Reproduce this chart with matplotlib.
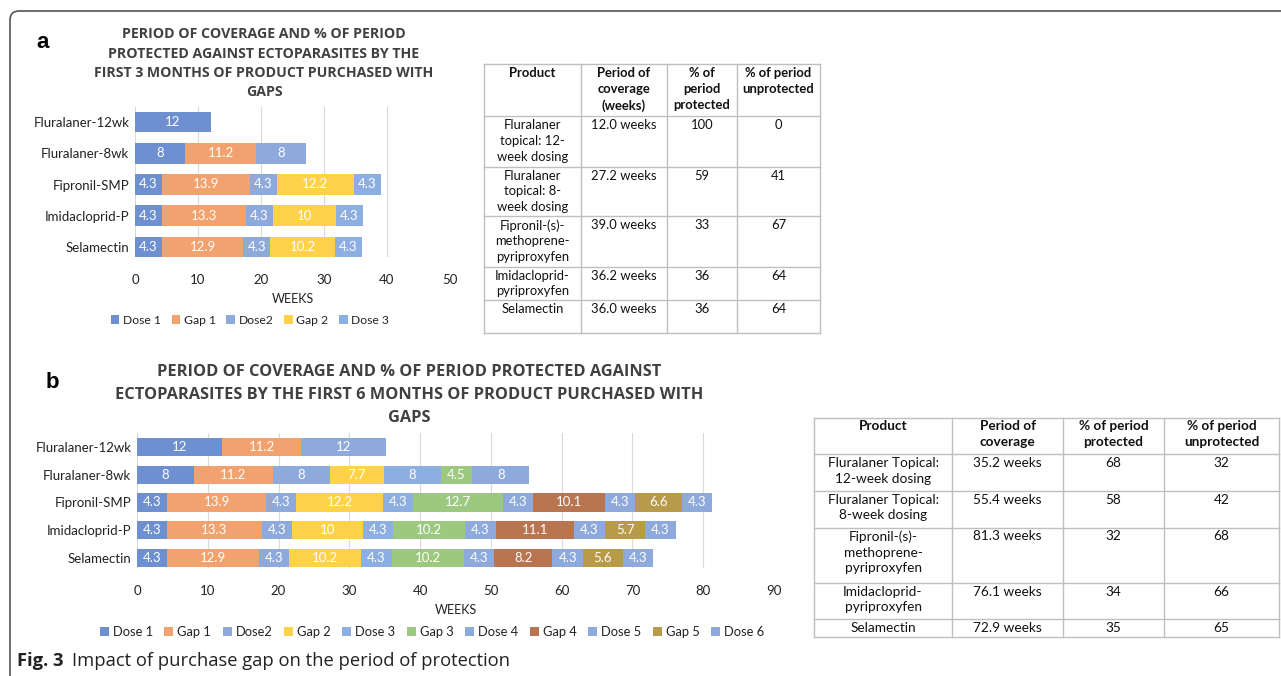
import matplotlib
matplotlib.use("Agg")
import matplotlib.pyplot as plt
from matplotlib.patches import FancyBboxPatch

W, H = 1281, 676

products = ["Fluralaner-12wk", "Fluralaner-8wk", "Fipronil-SMP", "Imidacloprid-P", "Selamectin"]

# panel a: first 3 months (weeks per segment, 0 = no segment)
series_a = ["Dose 1", "Gap 1", "Dose2", "Gap 2", "Dose 3"]
dose1_a = [12, 8, 4.3, 4.3, 4.3]
gap1_a = [0, 11.2, 13.9, 13.3, 12.9]
dose2_a = [0, 8, 4.3, 4.3, 4.3]
gap2_a = [0, 0, 12.2, 10, 10.2]
dose3_a = [0, 0, 4.3, 4.3, 4.3]
values_a = [dose1_a, gap1_a, dose2_a, gap2_a, dose3_a]

# panel b: first 6 months
series_b = ["Dose 1", "Gap 1", "Dose2", "Gap 2", "Dose 3", "Gap 3", "Dose 4", "Gap 4", "Dose 5", "Gap 5", "Dose 6"]
dose1_b = [12, 8, 4.3, 4.3, 4.3]
gap1_b = [11.2, 11.2, 13.9, 13.3, 12.9]
dose2_b = [12, 8, 4.3, 4.3, 4.3]
gap2_b = [0, 7.7, 12.2, 10, 10.2]
dose3_b = [0, 8, 4.3, 4.3, 4.3]
gap3_b = [0, 4.5, 12.7, 10.2, 10.2]
dose4_b = [0, 8, 4.3, 4.3, 4.3]
gap4_b = [0, 0, 10.1, 11.1, 8.2]
dose5_b = [0, 0, 4.3, 4.3, 4.3]
gap5_b = [0, 0, 6.6, 5.7, 5.6]
dose6_b = [0, 0, 4.3, 4.3, 4.3]
values_b = [dose1_b, gap1_b, dose2_b, gap2_b, dose3_b, gap3_b, dose4_b, gap4_b, dose5_b, gap5_b, dose6_b]

colors = {"Dose 1": "#6E8FD0", "Gap 1": "#F1A26E", "Dose2": "#8EA9DC", "Gap 2": "#FFD24A",
          "Dose 3": "#8DAEE0", "Gap 3": "#9CC97F", "Dose 4": "#8EA9DC", "Gap 4": "#B8754F",
          "Dose 5": "#8EA9DC", "Gap 5": "#B89B48", "Dose 6": "#8EA9DC"}

header_a = ["Product", "Period of\ncoverage\n(weeks)", "% of\nperiod\nprotected", "% of period\nunprotected"]
rows_a = [["Fluralaner\ntopical: 12-\nweek dosing", "12.0 weeks", "100", "0"],
          ["Fluralaner\ntopical: 8-\nweek dosing", "27.2 weeks", "59", "41"],
          ["Fipronil-(s)-\nmethoprene-\npyriproxyfen", "39.0 weeks", "33", "67"],
          ["Imidacloprid-\npyriproxyfen", "36.2 weeks", "36", "64"],
          ["Selamectin", "36.0 weeks", "36", "64"]]

header_b = ["Product", "Period of\ncoverage", "% of period\nprotected", "% of period\nunprotected"]
rows_b = [["Fluralaner Topical:\n12-week dosing", "35.2 weeks", "68", "32"],
          ["Fluralaner Topical:\n8-week dosing", "55.4 weeks", "58", "42"],
          ["Fipronil-(s)-\nmethoprene-\npyriproxyfen", "81.3 weeks", "32", "68"],
          ["Imidacloprid-\npyriproxyfen", "76.1 weeks", "34", "66"],
          ["Selamectin", "72.9 weeks", "35", "65"]]

plt.rcParams['font.family'] = ['Lato', 'DejaVu Sans']
TXT = "#222222"

fig = plt.figure(figsize=(W / 100, H / 100), dpi=100)


def fx(px):
    return px / W


def fy(py):
    return 1 - py / H


def stacked(rect, series, values, xmax, ylim, bh, fs):
    ax = fig.add_axes(rect)
    y = list(range(len(products)))
    left = [0] * len(products)
    handles = []
    for name, vals in zip(series, values):
        bars = ax.barh(y, vals, left=left, height=bh, color=colors[name], zorder=3, label=name)
        ax.bar_label(bars, labels=[f"{v:g}" if v > 0 else "" for v in vals],
                     label_type="center", color="white", fontsize=fs + 0.5)
        handles.append(bars)
        left = [l + v for l, v in zip(left, vals)]
    ax.set_yticks(y)
    ax.set_yticklabels(products, fontsize=fs + 0.5, color=TXT)
    ax.set_xlim(0, xmax)
    ax.set_xticks(range(0, xmax + 1, 10))
    ax.tick_params(axis="x", labelsize=fs + 0.5, colors=TXT, length=0, pad=12)
    ax.tick_params(axis="y", length=0, pad=4)
    ax.set_ylim(*ylim)
    ax.grid(axis="x", color="#D9D9D9", lw=0.8, zorder=0)
    for s in ax.spines.values():
        s.set_visible(False)
    ax.set_xlabel("WEEKS", fontsize=fs, color=TXT, labelpad=5)
    return ax, handles


ax_a, h_a = stacked([fx(135), fy(257), fx(450 - 135), (257 - 107) / H], series_a, values_a, 50,
                    (4.32, -0.48), 0.66, 9)
ax_b, h_b = stacked([fx(137), fy(568), fx(774 - 137), (568 - 433) / H], series_b, values_b, 90,
                    (4.36, -0.5), 0.66, 9)

leg_kw = dict(frameon=False, handlelength=0.7, handleheight=0.7, handletextpad=0.3,
              columnspacing=0.9, labelcolor=TXT)
fig.legend(h_a, series_a, loc="center", bbox_to_anchor=(fx(250), fy(320)), ncol=5, fontsize=8.7, **leg_kw)
fig.legend(h_b, series_b, loc="center", bbox_to_anchor=(fx(432), fy(632)), ncol=11, fontsize=9.3, **leg_kw)

# overlay for titles, tables, frame
ov = fig.add_axes([0, 0, 1, 1], zorder=-1)
ov.set_xlim(0, W)
ov.set_ylim(H, 0)
ov.axis("off")

ov.add_patch(FancyBboxPatch((10, 11), 1400, 800, boxstyle="round,pad=0,rounding_size=9",
                            fc="none", ec="#555555", lw=1.2))

title_font = ['Open Sans', 'DejaVu Sans']
title_a = ["PERIOD OF COVERAGE AND % OF PERIOD", "PROTECTED AGAINST ECTOPARASITES BY THE",
           "FIRST 3 MONTHS OF PRODUCT PURCHASED WITH", "GAPS"]
for i, line in enumerate(title_a):
    ov.text(264, 34 + i * 19.5, line, ha="center", va="center", fontsize=10.2, fontweight="bold",
            color="#404040", family=title_font)
title_b = ["PERIOD OF COVERAGE AND % OF PERIOD PROTECTED AGAINST",
           "ECTOPARASITES BY THE FIRST 6 MONTHS OF PRODUCT PURCHASED WITH", "GAPS"]
for i, line in enumerate(title_b):
    ov.text(409, 372 + i * 23, line, ha="center", va="center", fontsize=11.8, fontweight="bold",
            color="#404040", family=title_font)

ov.text(43, 42, "a", ha="center", va="center", fontsize=16, fontweight="bold", family=['Liberation Sans'])
ov.text(52, 383, "b", ha="center", va="center", fontsize=16, fontweight="bold", family=['Liberation Sans'])


def draw_table(cols, rows_y, header, rows, fs, ls):
    lc = "#BFBFBF"
    for x in cols:
        ov.plot([x, x], [rows_y[0], rows_y[-1]], color=lc, lw=1)
    for y in rows_y:
        ov.plot([cols[0], cols[-1]], [y, y], color=lc, lw=1)
    allrows = [header] + rows
    for r, row in enumerate(allrows):
        for c, txt in enumerate(row):
            ov.text((cols[c] + cols[c + 1]) / 2, rows_y[r] + 3, txt, ha="center", va="top",
                    fontsize=fs, linespacing=ls, color="#111111",
                    fontweight="bold" if r == 0 else "normal")


draw_table([484, 581, 667, 737, 820], [64, 116, 166.5, 216, 266.5, 300, 332.5], header_a, rows_a, 9.4, 1.38)
draw_table([814, 952, 1063, 1164, 1279], [417.5, 454, 490.5, 527.5, 582.5, 619, 637], header_b, rows_b, 9.8, 1.36)

ov.text(17, 661, "Fig. 3", ha="left", va="center", fontsize=13.2, fontweight="bold",
        family=['Open Sans', 'DejaVu Sans'], color="#222222")
ov.text(72, 661, "Impact of purchase gap on the period of protection", ha="left", va="center",
        fontsize=13.2, family=['Open Sans', 'DejaVu Sans'], color="#222222")

fig.savefig("out.png", dpi=100)
